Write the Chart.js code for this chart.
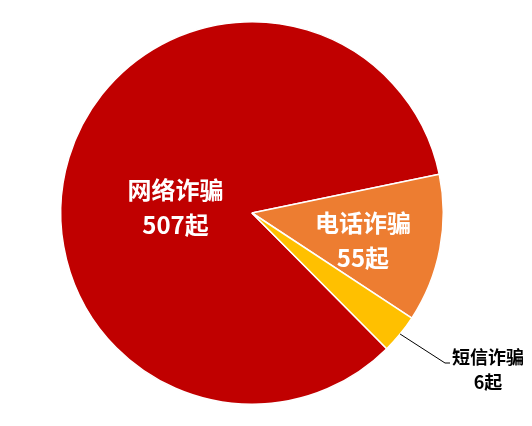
<!DOCTYPE html>
<html>
<head>
<meta charset="utf-8">
<script src="https://cdn.jsdelivr.net/npm/chart.js@4/dist/chart.umd.min.js"></script>
<style>
    html, body { margin: 0; padding: 0; background: #fff; }
    #wrap { width: 532px; height: 426px; }
</style>
</head>
<body>
<div id="wrap"><canvas id="chartFraude" width="532" height="426"></canvas></div>
<script>
// Datos del gráfico
const categorias = ['网络诈骗', '电话诈骗', '短信诈骗'];
const casos = [507, 55, 6];
// Tamaño de cada sector tal como se ve en la imagen (% del círculo)
const sectores = [84.2, 12.5, 3.3];
const colores = ['#C00000', '#ED7D31', '#FFC000'];

// Etiquetas: dentro del sector (blanco) o fuera con línea guía (negro)
const posEtiquetas = [
    { modo: 'dentro', dx: -0.40, dy: -0.03, size: 24 },
    { modo: 'dentro', dx: 0.58, dy: 0.14, size: 24 },
    { modo: 'fuera', codo: [193, 150], size: 18 }
];

const etiquetasPlugin = {
    id: 'etiquetas',
    afterDatasetsDraw(chart) {
        const ctx = chart.ctx;
        const arcs = chart.getDatasetMeta(0).data;
        ctx.save();
        ctx.textAlign = 'center';
        ctx.textBaseline = 'middle';
        arcs.forEach((arc, i) => {
            const p = posEtiquetas[i];
            const r = arc.outerRadius;
            const texto1 = categorias[i];
            const texto2 = casos[i] + '起';
            ctx.font = `bold ${p.size}px "Noto Sans CJK SC", sans-serif`;
            if (p.modo === 'dentro') {
                const x = arc.x + p.dx * r;
                const y = arc.y + p.dy * r;
                ctx.fillStyle = '#FFFFFF';
                ctx.fillText(texto1, x, y - 17);
                ctx.fillText(texto2, x, y + 18);
            } else {
                const medio = (arc.startAngle + arc.endAngle) / 2;
                const x0 = arc.x + Math.cos(medio) * r;
                const y0 = arc.y + Math.sin(medio) * r;
                const x1 = arc.x + p.codo[0];
                const y1 = arc.y + p.codo[1];
                ctx.strokeStyle = '#000000';
                ctx.lineWidth = 1;
                ctx.beginPath();
                ctx.moveTo(x0, y0);
                ctx.lineTo(x1, y1);
                ctx.lineTo(x1 + 5, y1);
                ctx.stroke();
                ctx.fillStyle = '#000000';
                const tx = x1 + 7 + ctx.measureText(texto1).width / 2;
                ctx.fillText(texto1, tx, y1 - 6);
                ctx.fillText(texto2, tx, y1 + 19);
            }
        });
        ctx.restore();
    }
};

const ctxFraude = document.getElementById('chartFraude').getContext('2d');
new Chart(ctxFraude, {
    type: 'pie',
    data: {
        labels: categorias,
        datasets: [{
            data: sectores,
            backgroundColor: colores,
            borderColor: '#FFFFFF',
            borderWidth: 1.5
        }]
    },
    options: {
        responsive: false,
        animation: false,
        rotation: 135.2,
        layout: {
            padding: { top: 21, bottom: 21, left: 60, right: 88 }
        },
        plugins: {
            legend: { display: false },
            tooltip: { enabled: false }
        }
    },
    plugins: [etiquetasPlugin]
});
</script>
</body>
</html>
